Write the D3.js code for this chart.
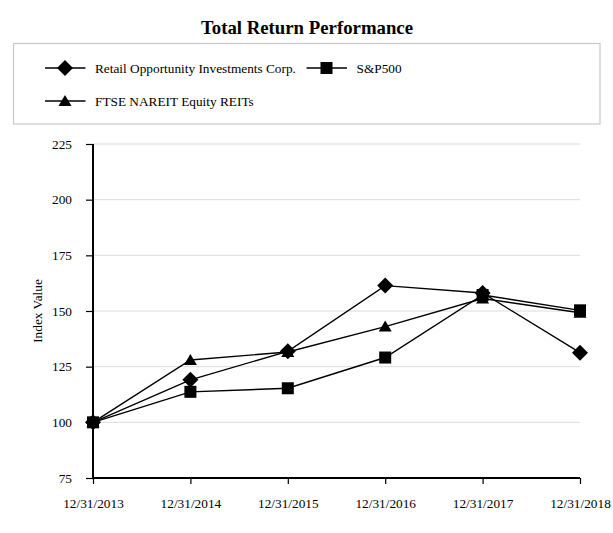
<!DOCTYPE html>
<html><head><meta charset="utf-8">
<script src="https://cdn.jsdelivr.net/npm/d3@7"></script>
<style>body{margin:0;background:#fff;}svg{display:block;}</style>
</head><body>
<script>
const categories = ["12/31/2013","12/31/2014","12/31/2015","12/31/2016","12/31/2017","12/31/2018"];
const roic = [100, 119.1, 131.9, 161.4, 158.1, 131.3];
const sp500 = [100, 113.7, 115.3, 129.1, 157.2, 150.3];
const ftse = [100, 128.0, 131.6, 143.0, 155.6, 149.2];
const yTicks = [75, 100, 125, 150, 175, 200, 225];
const seriesNames = ["Retail Opportunity Investments Corp.", "S&P500", "FTSE NAREIT Equity REITs"];

const W = 613, H = 533;
const svg = d3.select("body").append("svg").attr("width", W).attr("height", H);
const font = "'Liberation Serif', 'Times New Roman', serif";

const x = d3.scalePoint().domain(categories).range([93, 580]);
const y = d3.scaleLinear().domain([75, 225]).range([478, 144]);

svg.append("text").attr("x", 307).attr("y", 33.5).attr("text-anchor", "middle")
  .attr("font-family", font).attr("font-weight", "bold").attr("font-size", 18.8)
  .text("Total Return Performance");

// legend box
svg.append("rect").attr("x", 13.5).attr("y", 43.5).attr("width", 586.5).attr("height", 80.5)
  .attr("fill", "none").attr("stroke", "#c8c8c8").attr("stroke-width", 1.2);

function marker(g, type, cx, cy) {
  if (type === 0) {
    g.append("path").attr("d", `M${cx},${cy-8}L${cx+8},${cy}L${cx},${cy+8}L${cx-8},${cy}Z`).attr("fill", "#000");
  } else if (type === 1) {
    g.append("rect").attr("x", cx-6).attr("y", cy-6).attr("width", 12).attr("height", 12).attr("fill", "#000");
  } else {
    g.append("path").attr("d", `M${cx},${cy-6}L${cx+6.5},${cy+5}L${cx-6.5},${cy+5}Z`).attr("fill", "#000");
  }
}

const legendItems = [
  {name: seriesNames[0], lx: 45, ly: 68, type: 0},
  {name: seriesNames[1], lx: 306.5, ly: 68, type: 1},
  {name: seriesNames[2], lx: 45, ly: 101, type: 2}
];
const lg = svg.append("g");
legendItems.forEach(it => {
  lg.append("line").attr("x1", it.lx).attr("x2", it.lx + 40.5).attr("y1", it.ly).attr("y2", it.ly)
    .attr("stroke", "#000").attr("stroke-width", 1.5);
  marker(lg, it.type, it.lx + 20, it.ly);
  lg.append("text").attr("x", it.lx + 50).attr("y", it.ly + 4.5)
    .attr("font-family", font).attr("font-size", 13.3).attr("fill", "#000").text(it.name);
});

// gridlines
svg.append("g").selectAll("line").data(yTicks.filter(d => d > 75)).join("line")
  .attr("x1", 93).attr("x2", 580).attr("y1", d => y(d)).attr("y2", d => y(d))
  .attr("stroke", "#dcdcdc").attr("stroke-width", 1);

// axes
const yAxis = svg.append("g").attr("transform", "translate(93,0)")
  .call(d3.axisLeft(y).tickValues(yTicks).tickSize(7).tickPadding(14).tickSizeOuter(0));
const xAxis = svg.append("g").attr("transform", "translate(0,478)")
  .call(d3.axisBottom(x).tickSize(6).tickPadding(15).tickSizeOuter(0));
[yAxis, xAxis].forEach(a => {
  a.select(".domain").attr("stroke", "#000").attr("stroke-width", 2);
  a.selectAll(".tick line").attr("stroke", "#000").attr("stroke-width", 1.2);
  a.selectAll("text").attr("font-family", font).attr("font-size", 13.3).attr("fill", "#000");
});
yAxis.select(".domain").attr("d", "M0,144V478");
xAxis.select(".domain").attr("d", "M93,0H580");

svg.append("text").attr("transform", "translate(42,311) rotate(-90)").attr("text-anchor", "middle")
  .attr("font-family", font).attr("font-size", 13.3).text("Index Value");

// series
const allSeries = [roic, sp500, ftse];
const line = d3.line().x((d, i) => x(categories[i])).y(d => y(d));
const order = [2, 1, 0];
order.forEach(s => {
  svg.append("path").datum(allSeries[s]).attr("d", line).attr("fill", "none")
    .attr("stroke", "#000").attr("stroke-width", 1.4);
});
order.forEach(s => {
  const g = svg.append("g");
  allSeries[s].forEach((v, i) => marker(g, s, x(categories[i]), y(v)));
});
</script>
</body></html>
